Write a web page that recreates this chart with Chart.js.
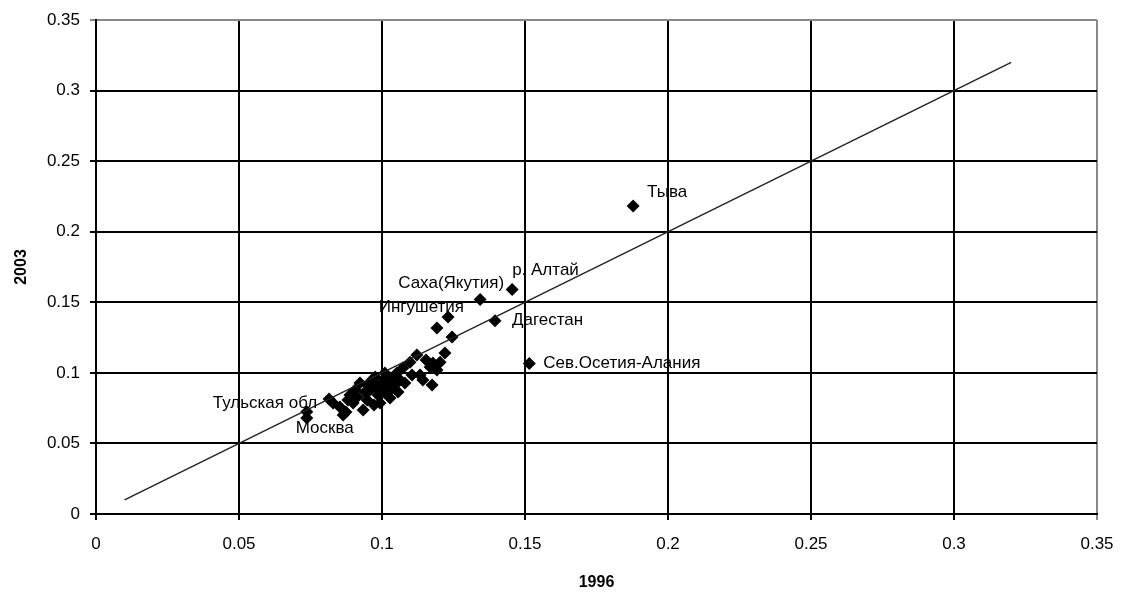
<!DOCTYPE html>
<html>
<head>
<meta charset="utf-8">
<script src="https://cdn.jsdelivr.net/npm/chart.js@4.4.1/dist/chart.umd.min.js"></script>
<style>
  html, body { margin: 0; padding: 0; background: #fff; }
  #wrap { width: 1123px; height: 592px; }
</style>
</head>
<body>
<div id="wrap"><canvas id="scatter"></canvas></div>
<script>
// tick labels
const xTickLabels = ["0", "0.05", "0.1", "0.15", "0.2", "0.25", "0.3", "0.35"];
const yTickLabels = ["0", "0.05", "0.1", "0.15", "0.2", "0.25", "0.3", "0.35"];

// named regions
const regionNames = ["Тыва", "р. Алтай", "Саха(Якутия)", "Ингушетия", "Дагестан", "Сев.Осетия-Алания", "Тульская обл", "Москва"];
const region1996 = [0.1878, 0.1455, 0.1343, 0.1231, 0.1395, 0.1515, 0.0815, 0.0737];
const region2003 = [0.2183, 0.1591, 0.1520, 0.1395, 0.1369, 0.1067, 0.0814, 0.0725];

// other regions (unlabelled)
const other1996 = [0.0829, 0.0853, 0.0864, 0.0874, 0.0899, 0.0913, 0.0923, 0.0934, 0.0948, 0.0958,
  0.0965, 0.0976, 0.0986, 0.1000, 0.0993, 0.1010, 0.1021, 0.1028, 0.1052, 0.1073,
  0.1098, 0.1122, 0.1133, 0.1143, 0.1168, 0.1178, 0.1175, 0.1192, 0.1220, 0.1192,
  0.1245, 0.1045, 0.1063, 0.1080, 0.1035, 0.0941, 0.0972, 0.0888, 0.0737, 0.0881,
  0.0906, 0.0951, 0.0979, 0.1007, 0.1035, 0.1056, 0.1014, 0.1105, 0.1154, 0.1203];
const other2003 = [0.0786, 0.0758, 0.0701, 0.0722, 0.0786, 0.0829, 0.0928, 0.0737, 0.0807, 0.0878,
  0.0949, 0.0970, 0.0843, 0.0928, 0.0786, 0.0999, 0.0914, 0.0822, 0.0999, 0.1034,
  0.1076, 0.1126, 0.0984, 0.0949, 0.1041, 0.1069, 0.0914, 0.1020, 0.1140, 0.1317,
  0.1254, 0.0914, 0.0949, 0.0928, 0.0963, 0.0864, 0.0772, 0.0843, 0.0680, 0.0807,
  0.0878, 0.0914, 0.0892, 0.0864, 0.0892, 0.0864, 0.0963, 0.0984, 0.1091, 0.1076];

// y = x reference line
const lineX = [0.01, 0.32];
const lineY = [0.01, 0.32];

const FONT = "'Liberation Sans', Arial, sans-serif";

// label placement next to each named marker: [align, dx, dy]
const labelPlace = {
  "Тыва": ["left", 14, -14],
  "р. Алтай": ["left", 0, -19],
  "Саха(Якутия)": ["right", 24, -16],
  "Ингушетия": ["right", 16, -10],
  "Дагестан": ["left", 17, 0],
  "Сев.Осетия-Алания": ["left", 14, 0],
  "Тульская обл": ["right", -12, 4],
  "Москва": ["center", 18, 17],
};

const regionLabels = {
  id: "regionLabels",
  afterDatasetsDraw(chart) {
    const { ctx, scales } = chart;
    ctx.save();
    ctx.font = "17px " + FONT;
    ctx.fillStyle = "#000";
    ctx.textBaseline = "middle";
    regionNames.forEach((name, i) => {
      const p = labelPlace[name];
      const px = scales.x.getPixelForValue(region1996[i]);
      const py = scales.y.getPixelForValue(region2003[i]);
      ctx.textAlign = p[0];
      ctx.fillText(name, px + p[1], py + p[2]);
    });
    ctx.restore();
  },
};

const toPoints = (xs, ys) => xs.map((x, i) => ({ x: x, y: ys[i] }));

const gridColor = (c) => (c.tick && c.tick.value >= 0.349 ? "#888" : "#000");

new Chart(document.getElementById("scatter"), {
  type: "scatter",
  data: {
    datasets: [
      {
        label: "line",
        type: "line",
        data: toPoints(lineX, lineY),
        borderColor: "#222",
        borderWidth: 1.4,
        pointRadius: 0,
        fill: false,
      },
      {
        label: "regions",
        data: toPoints(region1996, region2003).concat(toPoints(other1996, other2003)),
        pointStyle: "rectRot",
        pointRadius: 6.5,
        backgroundColor: "#000",
        borderColor: "#000",
        borderWidth: 0,
      },
    ],
  },
  options: {
    responsive: true,
    maintainAspectRatio: false,
    animation: false,
    layout: { padding: { top: 20, right: 26, left: 0, bottom: 0 } },
    plugins: {
      legend: { display: false },
      tooltip: { enabled: false },
    },
    scales: {
      x: {
        type: "linear",
        min: 0,
        max: 0.35,
        afterFit: (s) => { s.height = 78; s.paddingRight = 0; s.paddingLeft = 0; },
        afterBuildTicks: (s) => { s.ticks = xTickLabels.map((t) => ({ value: parseFloat(t) })); },
        ticks: {
          callback: (v, i) => xTickLabels[i],
          color: "#000",
          font: { family: FONT, size: 17 },
          padding: 14,
          maxRotation: 0,
        },
        grid: { color: gridColor, lineWidth: 2, tickLength: 6 },
        border: { color: "#000", width: 2 },
        title: {
          display: true,
          text: "1996",
          color: "#000",
          font: { family: FONT, size: 16, weight: "bold" },
          padding: { top: 10, bottom: 0 },
        },
      },
      y: {
        type: "linear",
        min: 0,
        max: 0.35,
        afterFit: (s) => { s.width = 96; s.paddingTop = 0; s.paddingBottom = 0; },
        afterBuildTicks: (s) => { s.ticks = yTickLabels.map((t) => ({ value: parseFloat(t) })); },
        ticks: {
          callback: (v, i) => yTickLabels[i],
          color: "#000",
          font: { family: FONT, size: 17 },
          padding: 10,
        },
        grid: { color: gridColor, lineWidth: 2, tickLength: 6 },
        border: { color: "#000", width: 2 },
        title: {
          display: true,
          text: "2003",
          color: "#000",
          font: { family: FONT, size: 16, weight: "bold" },
          padding: { top: 12, bottom: 0 },
        },
      },
    },
  },
  plugins: [regionLabels],
});
</script>
</body>
</html>
